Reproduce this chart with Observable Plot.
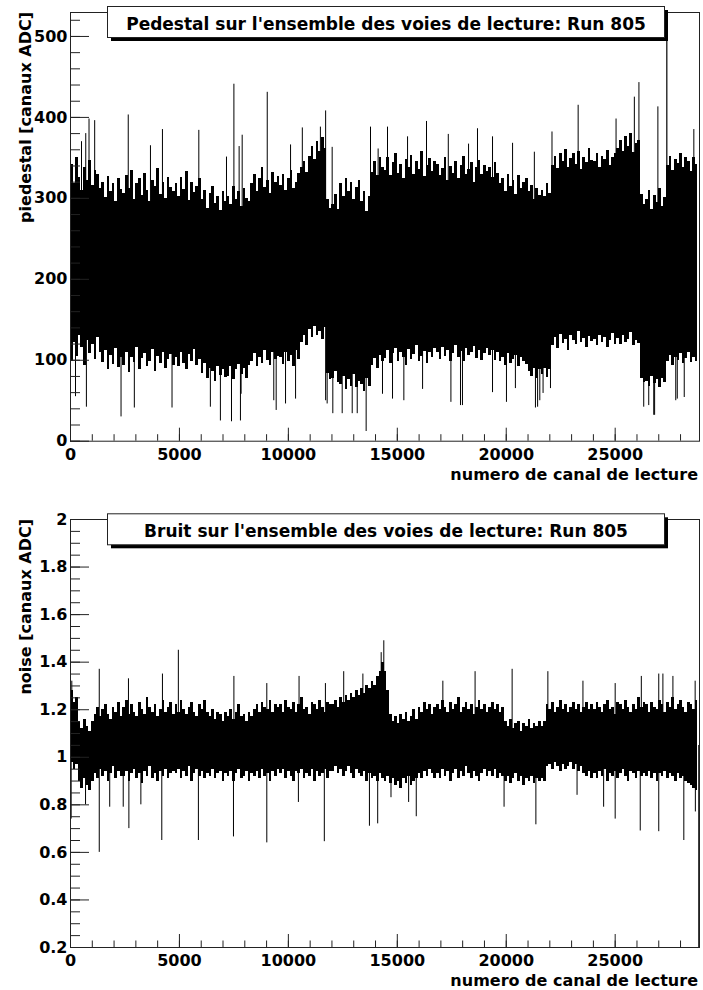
<!DOCTYPE html>
<html><head><meta charset="utf-8">
<script src="https://cdn.jsdelivr.net/npm/d3@7"></script>
<script src="https://cdn.jsdelivr.net/npm/@observablehq/plot@0.6"></script>
<style>
html,body{margin:0;padding:0;background:#fff;}
#chart svg{display:block;}
</style></head><body><div id="chart"></div>
<script>
// ---------- data ----------
const xEnd = 28870;            // last channel edge of the axis
const binWidth = 120;          // channels per envelope bin
const xMajor = [0, 5000, 10000, 15000, 20000, 25000];

// Pedestal: upper / lower edge of the dense band per 120-channel bin
const pedHi = [
 342,318,351,326,310,338,322,347,316,335,329,312,320,301,327,308,318,296,324,311,
 306,328,312,335,299,318,324,303,331,310,296,322,315,337,305,320,300,326,313,308,
 318,302,326,311,333,297,320,307,315,325,298,310,288,306,315,294,302,285,309,296,
 302,292,315,298,308,290,312,300,296,318,330,309,325,338,314,322,306,332,319,327,
 316,329,310,324,335,312,320,331,338,346,332,352,364,348,370,358,375,362,298,288,
 292,305,286,318,302,325,309,320,298,314,322,296,308,284,302,332,345,328,350,338,
 335,350,328,344,356,331,342,325,348,338,353,330,345,336,358,327,341,349,333,346,
 342,328,337,350,322,339,331,346,325,340,352,329,336,344,320,338,347,330,341,333,
 338,326,344,331,318,325,309,330,315,322,305,328,312,319,324,308,316,299,312,304,
 310,302,318,306,340,352,337,356,345,360,338,349,355,342,358,336,350,344,361,347,
 345,356,338,352,348,359,341,350,355,362,372,358,376,364,380,357,368,371,305,292,
 298,310,286,304,295,312,290,301,340,352,335,348,343,356,338,350,345,333,351,342];
const pedLo = [
 98,122,105,131,116,94,125,108,119,101,128,110,97,112,88,106,95,114,91,103,
 94,110,85,104,97,116,89,102,108,92,99,113,86,105,96,110,90,101,107,93,
 103,92,110,96,88,107,99,113,94,101,84,96,78,90,86,74,92,81,88,79,
 80,92,76,88,95,82,90,77,94,98,108,92,104,96,112,100,94,109,101,105,
 104,95,110,99,106,92,112,101,122,130,118,138,128,142,131,136,126,140,84,76,
 78,86,72,70,80,64,76,68,82,66,74,70,62,78,68,94,102,90,106,98,
 102,112,96,108,115,99,110,104,94,113,101,107,118,98,105,111,96,109,103,114,
 110,101,116,105,112,98,108,118,103,111,99,114,106,109,117,102,112,100,108,115,
 106,112,100,110,98,104,93,108,96,101,106,92,103,99,95,86,80,90,78,88,
 82,90,79,88,118,128,115,132,121,126,112,130,124,119,135,122,127,116,129,123,
 126,118,131,122,128,116,125,133,120,127,119,130,122,126,134,118,124,121,78,72,
 74,68,80,71,76,66,78,73,98,106,94,103,100,108,96,102,110,97,104,99];
// isolated pedestal channels: [channel, value]
const pedUp = [[505,370],[700,380],[850,398],[1110,396],[2650,403],[3670,365],[4220,385],[5890,384],[7160,351],[7500,441],[7740,364],[7880,378],[9030,431],[10100,366],[10640,387],[11470,388],[11710,408],[12010,363],[13770,388],[14120,361],[14550,388],[15470,376],[16340,395],[17340,379],[18270,367],[18680,386],[19370,376],[20290,368],[21290,357],[22100,382],[23300,415],[25040,398],[25880,425],[26090,443],[26960,413],[28610,385]];
const pedDown = [[230,55],[730,42],[2320,30],[2930,41],[4660,41],[6420,42],[6880,25],[7390,24],[7800,25],[7830,58],[9330,50],[9440,38],[9870,46],[10330,52],[11710,50],[11780,46],[12040,34],[12470,34],[12930,34],[13160,34],[13570,12],[14320,58],[14780,52],[15300,50],[16160,64],[17460,48],[17900,44],[17990,44],[19370,60],[20010,48],[20420,65],[21340,41],[21440,42],[21540,50],[21690,59],[22030,65],[26310,42],[26540,44],[26770,32],[26810,32],[27780,50],[27850,52],[28170,54]];
const pedOverflow = [[27370, 600]];

// Noise: upper / lower edge per 120-channel bin
const noiseHi = [
 1.28,1.23,1.25,1.15,1.12,1.16,1.13,1.11,1.15,1.18,1.21,1.17,1.20,1.22,1.18,1.16,1.21,1.19,1.23,1.17,
 1.21,1.24,1.18,1.22,1.19,1.17,1.23,1.20,1.18,1.25,1.21,1.19,1.22,1.17,1.20,1.24,1.19,1.21,1.23,1.18,
 1.22,1.19,1.24,1.20,1.18,1.21,1.23,1.19,1.17,1.22,1.20,1.24,1.19,1.17,1.20,1.16,1.19,1.18,1.15,1.19,
 1.17,1.20,1.16,1.19,1.22,1.17,1.18,1.15,1.19,1.17,1.20,1.22,1.19,1.23,1.21,1.20,1.24,1.19,1.22,1.21,
 1.22,1.19,1.24,1.21,1.20,1.23,1.19,1.22,1.25,1.20,1.21,1.18,1.23,1.22,1.20,1.24,1.21,1.19,1.23,1.22,
 1.22,1.24,1.21,1.25,1.23,1.26,1.24,1.27,1.25,1.28,1.26,1.29,1.27,1.30,1.29,1.32,1.30,1.34,1.36,1.40,
 1.36,1.28,1.18,1.15,1.17,1.14,1.18,1.16,1.19,1.15,1.17,1.20,1.16,1.21,1.19,1.23,1.20,1.22,1.18,1.21,
 1.22,1.20,1.24,1.21,1.19,1.23,1.20,1.22,1.25,1.19,1.21,1.23,1.20,1.22,1.18,1.21,1.24,1.20,1.22,1.19,
 1.21,1.23,1.20,1.22,1.19,1.21,1.15,1.13,1.16,1.12,1.14,1.15,1.11,1.14,1.13,1.16,1.12,1.14,1.13,1.15,
 1.13,1.15,1.22,1.20,1.23,1.19,1.21,1.24,1.20,1.22,1.19,1.21,1.23,1.20,1.22,1.19,1.21,1.23,1.20,1.22,
 1.20,1.23,1.21,1.19,1.22,1.24,1.20,1.21,1.18,1.23,1.22,1.20,1.24,1.21,1.19,1.22,1.20,1.25,1.21,1.23,
 1.22,1.19,1.23,1.21,1.20,1.24,1.22,1.19,1.23,1.21,1.25,1.20,1.22,1.24,1.21,1.19,1.23,1.22,1.20,1.24];
const noiseLo = [
 0.98,0.95,0.97,0.90,0.87,0.91,0.88,0.86,0.90,0.93,0.91,0.95,0.92,0.94,0.90,0.93,0.96,0.91,0.94,0.92,
 0.92,0.94,0.90,0.93,0.95,0.91,0.93,0.89,0.94,0.92,0.96,0.91,0.93,0.90,0.94,0.92,0.95,0.91,0.93,0.94,
 0.93,0.95,0.91,0.94,0.92,0.96,0.90,0.93,0.95,0.92,0.94,0.91,0.93,0.92,0.95,0.91,0.93,0.94,0.90,0.93,
 0.92,0.94,0.90,0.93,0.95,0.91,0.92,0.94,0.90,0.93,0.92,0.94,0.91,0.95,0.92,0.93,0.90,0.94,0.92,0.95,
 0.93,0.95,0.91,0.94,0.92,0.90,0.94,0.93,0.95,0.91,0.93,0.92,0.95,0.90,0.94,0.92,0.93,0.95,0.91,0.94,
 0.94,0.96,0.93,0.95,0.92,0.94,0.96,0.93,0.91,0.95,0.93,0.92,0.94,0.90,0.93,0.91,0.92,0.90,0.93,0.91,
 0.90,0.92,0.89,0.91,0.88,0.90,0.87,0.91,0.89,0.92,0.88,0.90,0.91,0.93,0.91,0.94,0.92,0.95,0.93,0.91,
 0.93,0.91,0.95,0.92,0.94,0.90,0.93,0.95,0.91,0.94,0.92,0.96,0.93,0.91,0.94,0.92,0.90,0.93,0.95,0.92,
 0.94,0.92,0.95,0.91,0.93,0.92,0.90,0.92,0.89,0.91,0.93,0.90,0.92,0.88,0.91,0.90,0.92,0.89,0.91,0.90,
 0.91,0.90,0.96,0.97,0.95,0.98,0.96,0.94,0.97,0.95,0.96,0.98,0.95,0.97,0.94,0.96,0.93,0.92,0.94,0.91,
 0.93,0.91,0.94,0.92,0.95,0.90,0.93,0.92,0.94,0.91,0.93,0.95,0.92,0.90,0.94,0.93,0.91,0.94,0.92,0.93,
 0.92,0.94,0.91,0.93,0.90,0.93,0.92,0.94,0.91,0.93,0.92,0.90,0.93,0.91,0.92,0.90,0.89,0.88,0.87,0.86];
const noiseUp = [[60,1.32],[1320,1.37],[2660,1.33],[4220,1.35],[4950,1.45],[7500,1.34],[9010,1.31],[10490,1.34],[11700,1.31],[12540,1.36],[13420,1.35],[14260,1.44],[14380,1.49],[17090,1.32],[18570,1.36],[20270,1.37],[21910,1.36],[23520,1.32],[25000,1.31],[26200,1.34],[27000,1.35],[27190,1.35],[27650,1.34],[28670,1.32]];
const noiseDown = [[30,0.74],[690,0.80],[1320,0.60],[1800,0.79],[2420,0.79],[2680,0.70],[3230,0.80],[4190,0.65],[5870,0.65],[7480,0.665],[9010,0.64],[10460,0.81],[11650,0.645],[13720,0.71],[14100,0.72],[14710,0.83],[15520,0.81],[15870,0.75],[19900,0.79],[21360,0.716],[23250,0.84],[24470,0.79],[25000,0.74],[26150,0.69],[27000,0.687],[28150,0.65],[28680,0.77]];
const noiseLast = [[28840, 0]];

const pedYMajor = [0,100,200,300,400,500];
const noiseYMajor = [0.2,0.4,0.6,0.8,1,1.2,1.4,1.6,1.8,2];

// ---------- drawing ----------
const FONT = "DejaVu Sans";
const INK = "#000";
const AX = "#222";

function panel(cfg) {
  const bins = cfg.hi.map((h, i) => ({x1: i * binWidth, x2: (i + 1) * binWidth, hi: h, lo: cfg.lo[i]}));
  const y0 = cfg.yDomain[0];
  const plot = Plot.plot({
    width: 703, height: cfg.height,
    marginLeft: 70, marginRight: 4, marginTop: cfg.mt, marginBottom: cfg.mb,
    style: {fontFamily: FONT, fontSize: "16px", fontWeight: "bold", background: "#fff", color: "#000", overflow: "visible"},
    x: {domain: [0, xEnd]},
    y: {domain: cfg.yDomain},
    marks: [
      Plot.rect(bins, {x1: "x1", x2: "x2", y1: "lo", y2: "hi", fill: INK, shapeRendering: "crispEdges"}),
      Plot.ruleX(cfg.up, {x: d => d[0], y1: cfg.base, y2: d => d[1], stroke: INK, strokeWidth: 1}),
      Plot.ruleX(cfg.down, {x: d => d[0], y1: cfg.base, y2: d => d[1], stroke: INK, strokeWidth: 1}),
      Plot.ruleX(cfg.extra, {x: d => d[0], y1: cfg.base, y2: d => d[1], stroke: INK, strokeWidth: 1.2, clip: true}),
      Plot.frame({stroke: AX, strokeWidth: 1}),
      // x ticks (inside the frame)
      Plot.ruleX(d3.range(0, xEnd, 1000), {x: d => d, y1: y0, y2: y0, insetTop: -6.5, stroke: AX}),
      Plot.ruleX(xMajor, {x: d => d, y1: y0, y2: y0, insetTop: -13, stroke: AX}),
      // y ticks (inside the frame)
      Plot.ruleY(cfg.yMinor, {y: d => d, x1: 0, x2: 0, insetRight: -10, stroke: AX}),
      Plot.ruleY(cfg.yMajor, {y: d => d, x1: 0, x2: 0, insetRight: -19, stroke: AX}),
      Plot.axisX({ticks: xMajor, tickSize: 0, tickPadding: 7, tickFormat: d => String(d), label: null}),
      Plot.axisY({ticks: cfg.yMajor, tickSize: 0, tickPadding: 3, tickFormat: d => String(d), label: null})
    ]
  });
  const svg = d3.select(plot);
  svg.selectAll("g[aria-label='x-axis tick label'], g[aria-label='y-axis tick label']")
    .style("font-family", FONT).style("font-size", "16px").style("font-weight", "bold").style("fill", "#000");
  // title box with shadow
  const bt = cfg.boxTop;
  svg.append("rect").attr("x", 111).attr("y", bt + 4).attr("width", 557).attr("height", 31).attr("fill", "#000");
  svg.append("rect").attr("x", 107.5).attr("y", bt + 0.5).attr("width", 557).attr("height", 31)
    .attr("fill", "#fff").attr("stroke", "#222").attr("stroke-width", 1);
  svg.append("text").attr("x", 386).attr("y", bt + 23.5).attr("text-anchor", "middle")
    .attr("font-family", FONT).attr("font-weight", "bold").attr("font-size", 17).attr("fill", "#000")
    .text(cfg.title);
  // axis titles
  svg.append("text").attr("transform", `translate(31,${cfg.mt}) rotate(-90)`).attr("text-anchor", "end")
    .attr("font-family", FONT).attr("font-weight", "bold").attr("font-size", 16).attr("fill", "#000")
    .text(cfg.ylabel);
  svg.append("text").attr("x", 698).attr("y", cfg.xlabelY).attr("text-anchor", "end")
    .attr("font-family", FONT).attr("font-weight", "bold").attr("font-size", 16).attr("fill", "#000")
    .text("numero de canal de lecture");
  return plot;
}

const chart = document.getElementById("chart");
chart.append(panel({
  hi: pedHi, lo: pedLo, up: pedUp, down: pedDown, extra: pedOverflow, base: 220,
  yDomain: [0, 529.6], yMajor: pedYMajor, yMinor: d3.range(0, 530, 20),
  height: 495, mt: 12, mb: 54.3, boxTop: 6, xlabelY: 480,
  title: "Pedestal sur l'ensemble des voies de lecture: Run 805",
  ylabel: "piedestal [canaux ADC]"
}));
chart.append(panel({
  hi: noiseHi, lo: noiseLo, up: noiseUp, down: noiseDown, extra: noiseLast, base: 1.05,
  yDomain: [0.2, 2], yMajor: noiseYMajor, yMinor: d3.range(0.2, 2.001, 0.05),
  height: 495, mt: 24, mb: 43, boxTop: 18.3, xlabelY: 491,
  title: "Bruit sur l'ensemble des voies de lecture: Run 805",
  ylabel: "noise [canaux ADC]"
}));
</script></body></html>
